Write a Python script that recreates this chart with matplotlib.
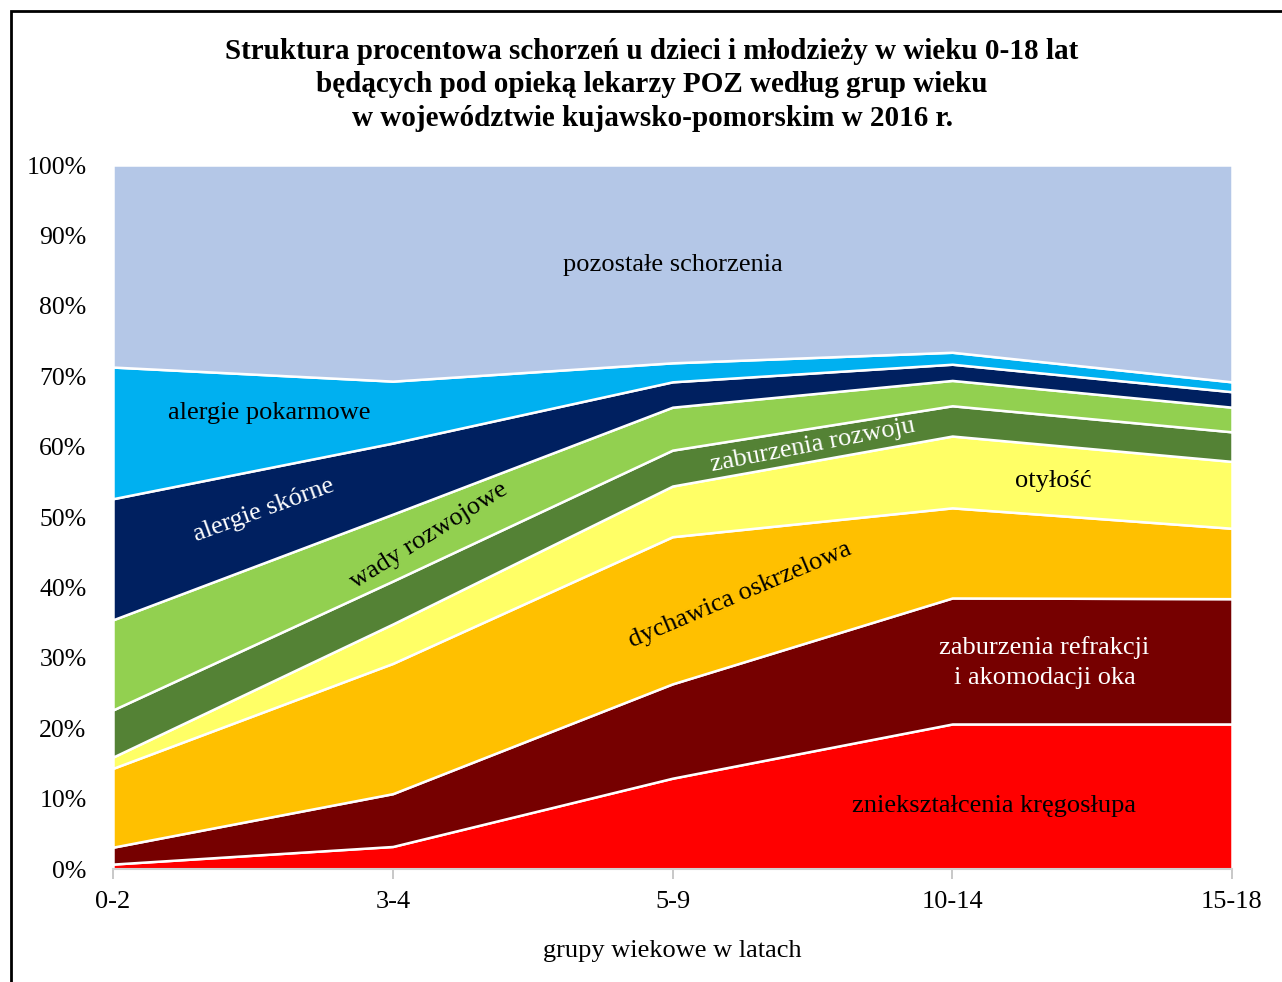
import matplotlib
matplotlib.use('Agg')
import matplotlib.pyplot as plt
from matplotlib.patches import Rectangle
import numpy as np

plt.rcParams['font.family'] = ['Liberation Serif', 'DejaVu Serif']

groups = ['0-2', '3-4', '5-9', '10-14', '15-18']

# udzialy procentowe (od dolu)
znieksztalcenia = [0.7, 3.2, 12.9, 20.6, 20.6]
refrakcja = [2.4, 7.5, 13.4, 17.9, 17.8]
dychawica = [11.2, 18.5, 20.9, 12.8, 10.0]
otylosc = [1.6, 5.6, 7.2, 10.2, 9.5]
zab_rozwoju = [6.7, 6.1, 5.1, 4.3, 4.2]
wady = [12.8, 9.5, 6.1, 3.6, 3.5]
alergie_sk = [17.2, 10.1, 3.6, 2.3, 2.2]
alergie_pok = [18.7, 8.8, 2.7, 1.7, 1.4]
pozostale = [28.7, 30.7, 28.1, 26.6, 30.8]

series = [znieksztalcenia, refrakcja, dychawica, otylosc, zab_rozwoju,
          wady, alergie_sk, alergie_pok, pozostale]
colors = ['#FF0000', '#760000', '#FFC000', '#FFFF66', '#548235',
          '#92D050', '#002060', '#00B0F0', '#B4C7E7']

fig = plt.figure(figsize=(12.82, 9.82), dpi=100)
ax = fig.add_axes([113/1282, 1-869/982, (1232-113)/1282, (869-165)/982])

x = np.arange(len(groups))
ax.stackplot(x, *series, colors=colors, edgecolor='white', linewidth=1.8)

fs = 19
ax.set_xlim(0, 4)
ax.set_ylim(0, 100)
ax.set_xticks(x)
ax.set_xticklabels(groups, fontsize=fs)
ax.set_yticks(np.arange(0, 101, 10))
ax.set_yticklabels([f'{v}%' for v in range(0, 101, 10)], fontsize=18.5)
ax.tick_params(axis='y', length=0, pad=19)
ax.tick_params(axis='x', length=7, color='#BFBFBF', width=1.2, pad=9, direction='out')
for s in ['top', 'right', 'left']:
    ax.spines[s].set_visible(False)
ax.spines['bottom'].set_color('#D0D0D0')
ax.spines['bottom'].set_linewidth(1.5)
ax.spines['bottom'].set_zorder(5)
ax.set_xlabel('grupy wiekowe w latach', fontsize=fs, labelpad=19)

# etykiety warstw
ax.text(2.0, 85.8, 'pozostałe schorzenia', fontsize=fs, ha='center', va='center')
ax.text(0.56, 64.8, 'alergie pokarmowe', fontsize=fs, ha='center', va='center')
ax.text(0.54, 51.0, 'alergie skórne', fontsize=fs, ha='center', va='center',
        color='white', rotation=20, rotation_mode='anchor')
ax.text(1.13, 47.4, 'wady rozwojowe', fontsize=fs, ha='center', va='center',
        rotation=32, rotation_mode='anchor')
ax.text(2.50, 60.2, 'zaburzenia rozwoju', fontsize=fs, ha='center', va='center',
        color='white', rotation=11, rotation_mode='anchor')
ax.text(3.36, 55.1, 'otyłość', fontsize=fs, ha='center', va='center')
ax.text(2.24, 38.9, 'dychawica oskrzelowa', fontsize=fs, ha='center', va='center',
        rotation=23, rotation_mode='anchor')
ax.text(3.33, 29.3, 'zaburzenia refrakcji\ni akomodacji oka', fontsize=fs,
        ha='center', va='center', color='white', linespacing=1.5)
ax.text(3.15, 8.9, 'zniekształcenia kręgosłupa', fontsize=fs, ha='center', va='center')

fig.text(652/1282, 1-38/982,
         'Struktura procentowa schorzeń u dzieci i młodzieży w wieku 0-18 lat\n'
         'będących pod opieką lekarzy POZ według grup wieku\n'
         'w województwie kujawsko-pomorskim w 2016 r.',
         fontsize=21, fontweight='bold', ha='center', va='top', linespacing=1.3)

# ramka wykresu
fig.patches.append(Rectangle((11/1282, -0.05), 1.1, 1-11/982+0.05,
                             transform=fig.transFigure, fill=False,
                             edgecolor='black', linewidth=2))

fig.savefig('out.png', dpi=100)
